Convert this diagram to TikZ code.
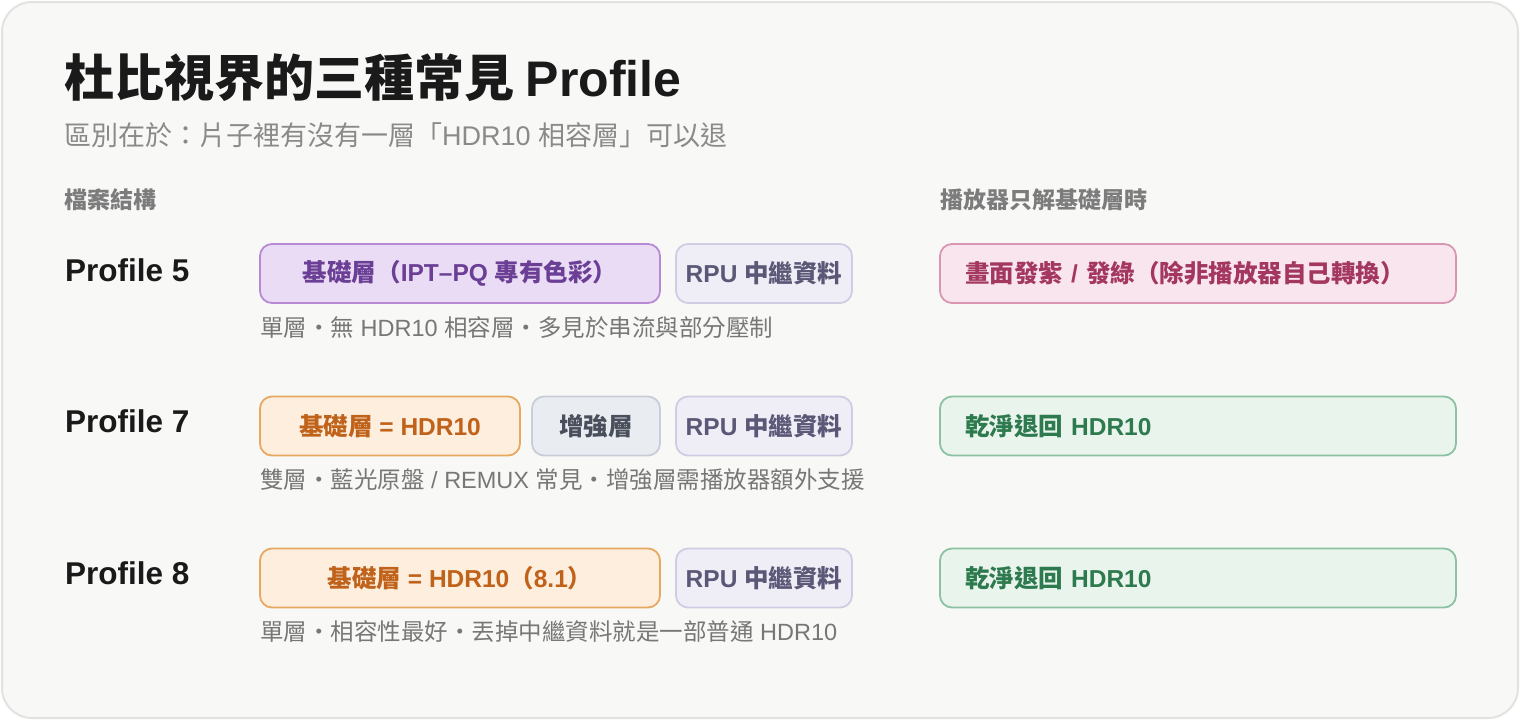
\documentclass[tikz,border=0pt]{standalone}
\usepackage{fontspec}
\setmainfont{Noto Sans CJK TC}
\newfontfamily\latf{Liberation Sans}
\newcommand\lt[1]{{\latf #1}}
\definecolor{cardbg}{HTML}{F8F8F6}
\definecolor{cardline}{HTML}{E2E2E0}
\definecolor{titlec}{HTML}{1A1A1A}
\definecolor{subc}{HTML}{8A8A8A}
\definecolor{headc}{HTML}{7C7C7C}
\definecolor{capc}{HTML}{777777}
\definecolor{purF}{HTML}{EADCF4}
\definecolor{purD}{HTML}{B98AD4}
\definecolor{purT}{HTML}{6B3F96}
\definecolor{rpuF}{HTML}{EFEEF6}
\definecolor{rpuD}{HTML}{CFCDE3}
\definecolor{rpuT}{HTML}{5A5876}
\definecolor{oraF}{HTML}{FDEEDE}
\definecolor{oraD}{HTML}{E7A860}
\definecolor{oraT}{HTML}{C0621A}
\definecolor{enhF}{HTML}{E9ECF1}
\definecolor{enhD}{HTML}{C9CDD8}
\definecolor{enhT}{HTML}{4A4F5C}
\definecolor{pinF}{HTML}{F8E5EE}
\definecolor{pinD}{HTML}{D996B3}
\definecolor{pinT}{HTML}{A3375F}
\definecolor{grnF}{HTML}{E9F4ED}
\definecolor{grnD}{HTML}{8CC2A2}
\definecolor{grnT}{HTML}{2E7A4F}
\tikzset{
  layerbox/.style={draw, rounded corners=12pt, line width=1.8pt, minimum height=59pt, inner sep=0pt, font=\bfseries\fontsize{24.5}{28}\selectfont},
  purbox/.style={layerbox, fill=purF, draw=purD, text=purT},
  rpubox/.style={layerbox, fill=rpuF, draw=rpuD, text=rpuT, minimum width=176pt},
  orabox/.style={layerbox, fill=oraF, draw=oraD, text=oraT},
  enhbox/.style={layerbox, fill=enhF, draw=enhD, text=enhT, minimum width=128pt},
  resbox/.style={layerbox, minimum width=516pt, text width=466pt, align=left},
  pinbox/.style={resbox, fill=pinF, draw=pinD, text=pinT},
  grnbox/.style={resbox, fill=grnF, draw=grnD, text=grnT},
  caption/.style={anchor=west, inner sep=0pt, text=capc, font=\fontsize{23.5}{27}\selectfont},
  rowlabel/.style={anchor=west, inner sep=0pt, text=titlec, font=\latf\bfseries\fontsize{31.5}{36}\selectfont},
  header/.style={anchor=west, inner sep=0pt, text=headc, font=\bfseries\fontsize{23}{27}\selectfont},
}
\begin{document}
\begin{tikzpicture}[x=1pt,y=-1pt]
\useasboundingbox (0,0) rectangle (1520,720);
\fill[white] (0,0) rectangle (1520,720);
\draw[line width=2pt, draw=cardline, fill=cardbg, rounded corners=30pt] (2,2) rectangle (1518,718);

\node[anchor=west, inner sep=0pt, text=titlec, font=\bfseries\fontsize{50}{56}\selectfont] (title) at (64,78) {杜比視界的三種常見 \lt{Profile}};
\node[anchor=west, inner sep=0pt, text=subc, font=\fontsize{27}{32}\selectfont] (sub) at (64,135) {區別在於：片子裡有沒有一層「\lt{HDR10 }相容層」可以退};

\node[header] (h1) at (64,200) {檔案結構};
\node[header] (h2) at (940,200) {播放器只解基礎層時};

% Row 1
\node[rowlabel] (p5) at (65,270) {Profile 5};
\node[purbox, minimum width=400pt] (b5) at (460,273.5) {基礎層（\lt{IPT–PQ }專有色彩）};
\node[rpubox] (r5) at (764,273.5) {\lt{RPU }中繼資料};
\node[pinbox] (o5) at (1198,273.5) {畫面發紫\lt{ / }發綠（除非播放器自己轉換）};
\node[caption] (c5) at (260,328) {單層・無\lt{ HDR10 }相容層・多見於串流與部分壓制};

% Row 2
\node[rowlabel] (p7) at (65,421) {Profile 7};
\node[orabox, minimum width=260pt] (b7) at (390,426) {基礎層\lt{ = HDR10}};
\node[enhbox] (e7) at (596,426) {增強層};
\node[rpubox] (r7) at (764,426) {\lt{RPU }中繼資料};
\node[grnbox] (o7) at (1198,426) {乾淨退回\lt{ HDR10}};
\node[caption] (c7) at (260,480) {雙層・藍光原盤\lt{ / REMUX }常見・增強層需播放器額外支援};

% Row 3
\node[rowlabel] (p8) at (65,573) {Profile 8};
\node[orabox, minimum width=400pt] (b8) at (460,578) {基礎層\lt{ = HDR10}（\lt{8.1}）};
\node[rpubox] (r8) at (764,578) {\lt{RPU }中繼資料};
\node[grnbox] (o8) at (1198,578) {乾淨退回\lt{ HDR10}};
\node[caption] (c8) at (260,632) {單層・相容性最好・丟掉中繼資料就是一部普通\lt{ HDR10}};
\end{tikzpicture}
\end{document}
